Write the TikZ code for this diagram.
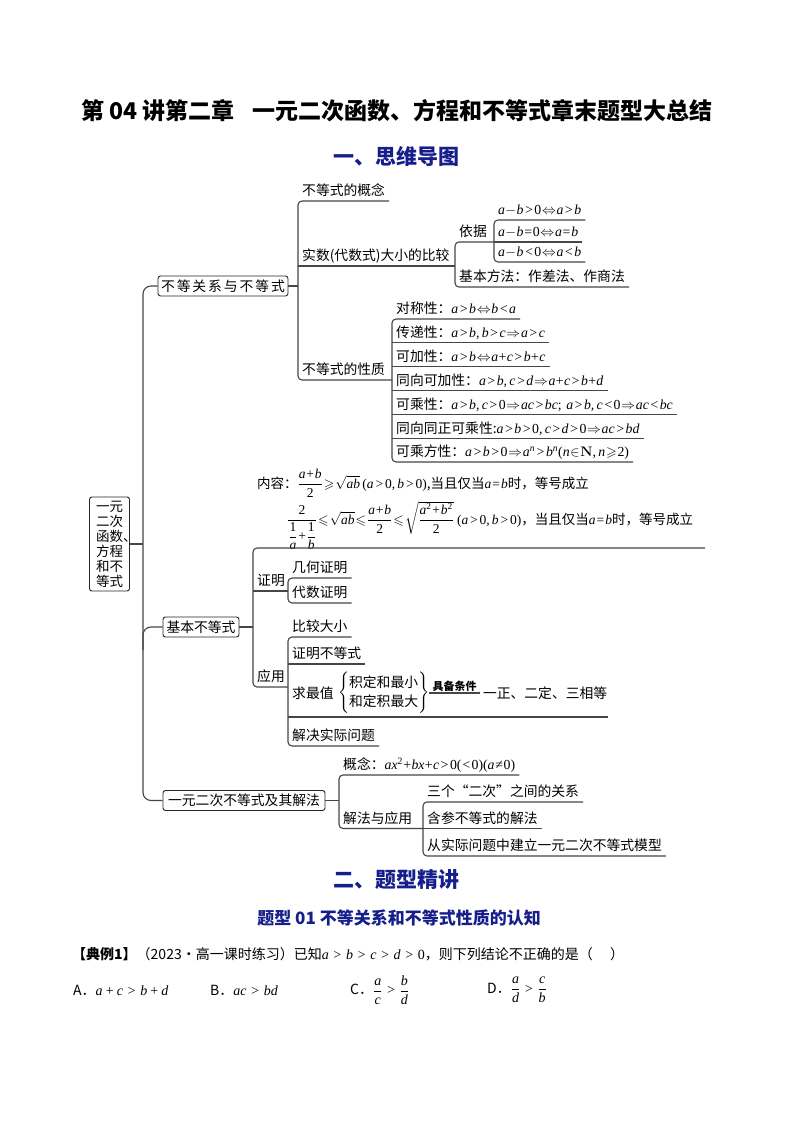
\RequirePackage{fix-cm}
\documentclass[tikz,border=0pt]{standalone}
\usepackage{amsmath,amssymb}
\usepackage[no-math]{fontspec}
\setmainfont{Noto Sans CJK SC}
\newfontfamily\tm[NFSSFamily=lsr]{Liberation Serif}
\DeclareSymbolFont{letters}{TU}{lsr}{m}{it}
\SetSymbolFont{letters}{bold}{TU}{lsr}{b}{it}
\DeclareSymbolFont{operators}{TU}{lsr}{m}{n}
\SetSymbolFont{operators}{bold}{TU}{lsr}{b}{n}
\mathcode`\,="612C
\newcommand\nq{\mathrel{\text{\tm ≠}}}
\usetikzlibrary{calc}
\definecolor{hblue}{RGB}{22,30,140}
\definecolor{lnc}{RGB}{70,70,70}
\newcommand\fs{\fontsize{13.8}{16}\selectfont\thickmuskip=1mu\medmuskip=0.5mu}
\newcommand\fm{\fontsize{13.5}{15}\selectfont\thickmuskip=1.5mu\medmuskip=1mu}
\newcommand\fe{\fontsize{14}{16}\selectfont}
\begin{document}
\begin{tikzpicture}[x=1pt,y=-1pt,
  ln/.style={draw=lnc, line width=1.1pt},
  itm/.style={anchor=south west, inner xsep=4pt, inner ysep=3pt, text depth=2pt, font=\fs},
  bx/.style={draw=black!85, line width=0.9pt, rounded corners=2.5pt, inner xsep=3pt, inner ysep=2pt, minimum height=20pt, font=\fs},
  hd/.style={text=hblue},
]
\fill[white] (0,0) rectangle (794,1123);
\useasboundingbox (0,0) rectangle (794,1123);

% headings
\node[font=\fontsize{23}{26}\selectfont\bfseries] (title) at (397,111) {第 04 讲第二章\hspace{0.8em}一元二次函数、方程和不等式章末题型大总结};
\node[hd, font=\fontsize{21}{24}\selectfont\bfseries] (h1) at (396,156) {一、思维导图};

% boxes
\node[bx, minimum width=40pt, minimum height=94pt, align=left, font=\fontsize{13.5}{15}\selectfont, inner xsep=5pt, inner ysep=3.5pt] (root) at (109.5,544) {一元\\二次\\函数\rlap{、}\\方程\\和不\\等式};
\node[bx, minimum width=121pt] (A) at (223,286) {\addfontfeature{LetterSpace=14}不等关系与不等式};
\node[bx, minimum width=76pt] (B) at (201,627) {基本不等式};
\node[bx, minimum width=162pt] (C) at (244,800.5) {一元二次不等式及其解法};

% branch A
\node[itm] (a1) at (298,201) {不等式的概念};
\node[itm] (a2) at (298,266) {实数(代数式)大小的比较};
\node[itm] (a3) at (298,380) {不等式的性质};
\node[itm] (yj) at (455,242) {依据};
\node[itm] (jf) at (455,287) {基本方法：作差法、作商法};
\node[itm] (y1) at (494,220) {$a-b>0\Leftrightarrow a>b$};
\node[itm] (y2) at (494,242) {$a-b=0\Leftrightarrow a=b$};
\node[itm] (y3) at (494,262) {$a-b<0\Leftrightarrow a<b$};
\node[itm] (p1) at (392,319) {对称性：$a>b\Leftrightarrow b<a$};
\node[itm] (p2) at (392,342.8) {传递性：$a>b,b>c\Rightarrow a>c$};
\node[itm] (p3) at (392,366.7) {可加性：$a>b\Leftrightarrow a+c>b+c$};
\node[itm] (p4) at (392,390.5) {同向可加性：$a>b,c>d\Rightarrow a+c>b+d$};
\node[itm] (p5) at (392,414.3) {可乘性：$a>b,c>0\Rightarrow ac>bc;\,a>b,c<0\Rightarrow ac<bc$};
\node[itm] (p6) at (392,438.2) {同向同正可乘性:$a>b>0,c>d>0\Rightarrow ac>bd$};
\node[itm] (p7) at (392,462) {可乘方性：$a>b>0\Rightarrow a^n>b^n(n\in\mathbf{N},n\geqslant2)$};

\draw[ln] (A.east) -- (A.east -| a1.south west);
\draw[ln, rounded corners=4] (a1.south east) -- (a1.south west) -- (a3.south west) -- (a3.south west -| p1.south west);
\draw[ln] (a2.south west) -- (a2.south west -| yj.south west);
\draw[ln, rounded corners=4] (y2.south west) -- (yj.south west) -- (jf.south west) -- (jf.south east);
\draw[ln, rounded corners=4] (y1.south east) -- (y1.south west) -- (y3.south west) -- (y3.south east);
\draw[ln] (y2.south west) -- (y2.south east);
\draw[ln, rounded corners=4] (p1.south east) -- (p1.south west) -- (p7.south west) -- (p7.south east);
\foreach \i in {2,...,6} \draw[ln] (p\i.south west) -- (p\i.south east);

% branch B
\coordinate (bL) at (253,548);
\coordinate (bR) at (705,548);
\node[anchor=base west, inner sep=0, font=\fm] (nr1) at (257,488) {内容：$\dfrac{a+b}{2}\geqslant\sqrt{ab}\,(a>0,b>0)$,当且仅当$a=b$时，等号成立};
\node[anchor=base west, inner sep=0, font=\fm] (nr2) at (287,524) {$\dfrac{2}{\dfrac{1}{a}+\dfrac{1}{b}}\leqslant\sqrt{ab}\leqslant\dfrac{a+b}{2}\leqslant\sqrt{\dfrac{a^2+b^2}{2}}\ (a>0,b>0)$，当且仅当$a=b$时，等号成立};
\node[itm] (b2) at (253,591) {证明};
\node[itm] (b3) at (253,687) {应用};
\node[itm] (z1) at (288,578) {几何证明};
\node[itm] (z2) at (288,603) {代数证明};
\node[itm] (u1) at (288,637) {比较大小};
\node[itm] (u2) at (288,664) {证明不等式};
\coordinate (u3L) at (288,717);
\coordinate (u3R) at (608,717);
\node[anchor=west, font=\fs, inner xsep=4pt] (u3) at (288,693) {求最值};
\node[anchor=west, inner sep=0, font=\fs] (qb) at (u3.east) {$\left\{\renewcommand\arraystretch{1.2}\begin{tabular}{@{}l@{}}积定和最小\\和定积最大\end{tabular}\right\}$};
\node[anchor=south west, inner xsep=3pt, inner ysep=1.5pt, font=\fontsize{11}{12}\selectfont\bfseries] (jt) at (qb.east) {具备条件};
\node[anchor=west, inner xsep=3pt, font=\fs] (yz) at (jt.south east) {一正、二定、三相等};
\node[itm] (u4) at (288,746) {解决实际问题};

\draw[ln] (jt.south west) -- (jt.south east);
\draw[ln] (B.east) -- (B.east -| bL);
\draw[ln, rounded corners=4] (bR) -- (bL) -- (b3.south west) -- (b3.south west -| u1.south west);
\draw[ln] (b2.south west) -- (b2.south west -| z1.south west);
\draw[ln, rounded corners=4] (z1.south east) -- (z1.south west) -- (z2.south west) -- (z2.south east);
\draw[ln, rounded corners=4] (u1.south east) -- (u1.south west) -- (u4.south west) -- (u4.south east);
\draw[ln] (u2.south west) -- (u2.south east);
\draw[ln] (u3L) -- (u3R);

% branch C
\node[itm] (c1) at (339,775) {概念：$ax^2+bx+c>0(<0)(a\nq0)$};
\node[itm] (c2) at (339,828.5) {解法与应用};
\node[itm] (d1) at (423,802) {三个“二次”之间的关系};
\node[itm] (d2) at (423,828.5) {含参不等式的解法};
\node[itm] (d3) at (423,856) {从实际问题中建立一元二次不等式模型};
\draw[ln] (C.east) -- (C.east -| c1.south west);
\draw[ln, rounded corners=4] (c1.south east) -- (c1.south west) -- (c2.south west) -- (d2.south west);
\draw[ln, rounded corners=4] (d1.south east) -- (d1.south west) -- (d3.south west) -- (d3.south east);
\draw[ln] (d2.south west) -- (d2.south east);

% trunk
\coordinate (tr) at (143,544);
\coordinate (tB) at (143,650);
\draw[ln, rounded corners=8] (A.west) -- (A.west -| tr) -- (C.west -| tr) -- (C.west);
\draw[ln, rounded corners=8] (tB) |- (B.west);
\draw[ln] (root.east) -- (tr);

% lower part
\node[hd, font=\fontsize{21}{24}\selectfont\bfseries] (h2) at (396,880) {二、题型精讲};
\node[hd, font=\fontsize{17}{20}\selectfont\bfseries] (h3) at (399,918) {题型 01 不等关系和不等式性质的认知};
\node[anchor=west, inner sep=0, font=\fe] (ex) at (72,954) {\textbf{【典例1】}（2023·高一课时练习）已知$a>b>c>d>0$，则下列结论不正确的是（\quad\ ）};
\node[anchor=west, inner sep=0, font=\fe] (oa) at (73,990) {A．$a+c>b+d$};
\node[anchor=west, inner sep=0, font=\fe] (ob) at (210,990) {B．$ac>bd$};
\node[anchor=west, inner sep=0, font=\fe] (oc) at (350,990) {C．$\dfrac{a}{c}>\dfrac{b}{d}$};
\node[anchor=west, inner sep=0, font=\fe] (od) at (487,990) {D．$\dfrac{a}{d}>\dfrac{c}{b}$};
\end{tikzpicture}
\end{document}
